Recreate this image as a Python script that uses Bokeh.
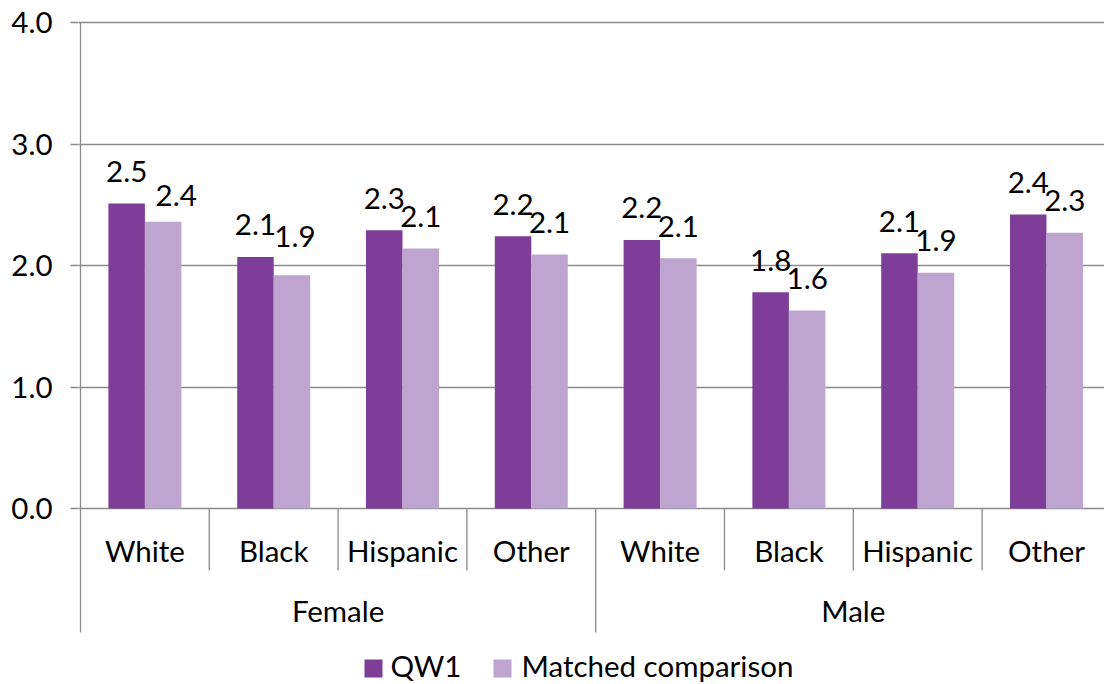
from bokeh.plotting import figure
from bokeh.models import Range1d, FixedTicker, PrintfTickFormatter
from bokeh.core.properties import value
from bokeh.embed import file_html
from bokeh.resources import INLINE

# ---- data -------------------------------------------------------------
genders = ["Female", "Male"]
groups = ["White", "Black", "Hispanic", "Other"]
qw1 = [2.51, 2.07, 2.29, 2.24, 2.21, 1.78, 2.10, 2.42]
matched = [2.36, 1.92, 2.14, 2.09, 2.06, 1.63, 1.94, 2.27]
series_names = ["QW1", "Matched comparison"]
y_ticks = [0, 1, 2, 3, 4]

# ---- style ------------------------------------------------------------
QW1_COLOR = "#7E3D97"
MATCH_COLOR = "#BEA5CF"
GRID = "#8A8A8A"
FONT = "Lato"
FS = "29.5px"
BASE_SHIFT = 11      # svg text sits this much lower than its anchor

W, H = 1104, 684
LEFT = 78            # frame starts here (px)
SLOT_PX = 128.8      # width of one category slot (px)
PPU = 121.5          # px per y unit
ZERO_PX = 508        # screen row of y = 0

X0 = -2 / SLOT_PX
x_end = X0 + (W - LEFT) / SLOT_PX
y_top = 4 + (ZERO_PX - 4 * PPU) / PPU
y_bot = -(H - ZERO_PX) / PPU


def below(px):
    """y value lying px pixels under the zero line"""
    return -px / PPU


def xpx(px):
    """x value for a screen column"""
    return X0 + (px - LEFT) / SLOT_PX


n = len(genders) * len(groups)
centers = [i + 0.5 for i in range(n)]
BAR_W = 36.5 / SLOT_PX

p = figure(width=W, height=H, output_backend="svg", toolbar_location=None,
           x_range=Range1d(X0, x_end), y_range=Range1d(y_bot, y_top),
           x_axis_location=None, min_border_left=LEFT, min_border_right=0,
           min_border_top=0, min_border_bottom=0)
p.outline_line_color = None
p.xgrid.visible = False
p.ygrid.grid_line_color = GRID
p.ygrid.grid_line_width = 1.3

ax = p.yaxis[0]
ax.ticker = FixedTicker(ticks=y_ticks)
ax.formatter = PrintfTickFormatter(format="%.1f")
ax.axis_line_color = None
ax.major_tick_in = 0
ax.major_tick_out = 8
ax.major_tick_line_color = GRID
ax.major_tick_line_width = 1.3
ax.minor_tick_line_color = None
ax.major_label_standoff = 18
ax.major_label_text_font = FONT
ax.major_label_text_font_size = FS
ax.major_label_text_color = "black"

# ---- bars -------------------------------------------------------------
p.vbar(x=[c - BAR_W / 2 for c in centers], top=qw1, bottom=0, width=BAR_W,
       fill_color=QW1_COLOR, line_color=None)
p.vbar(x=[c + BAR_W / 2 for c in centers], top=matched, bottom=0, width=BAR_W,
       fill_color=MATCH_COLOR, line_color=None)

# ---- value labels -----------------------------------------------------
GAP = 21 + BASE_SHIFT
dx_q = [0] * n
dy_q = [0] * n
dx_m = [13, 3, 0, 0, 0, 0, 0, 0]
dy_m = [-5.5, 7, 0, 0, 0, 0, 0, 0]

lab_x, lab_y, lab_t = [], [], []
for i, c in enumerate(centers):
    lab_x.append(c - BAR_W / 2 + dx_q[i] / SLOT_PX)
    lab_y.append(qw1[i] + (GAP + dy_q[i]) / PPU)
    lab_t.append(f"{qw1[i]:.1f}")
    lab_x.append(c + BAR_W / 2 + dx_m[i] / SLOT_PX)
    lab_y.append(matched[i] + (GAP + dy_m[i]) / PPU)
    lab_t.append(f"{matched[i]:.1f}")
p.text(x=lab_x, y=lab_y, text=lab_t, text_align="center",
       text_baseline="alphabetic", text_font=value(FONT),
       text_font_size=FS, text_color="black")

# ---- category axis ----------------------------------------------------
inner = [i for i in range(1, n) if i % len(groups) != 0]
outer = [i for i in range(0, n + 1) if i % len(groups) == 0]
p.segment(x0=inner, x1=inner, y0=[0] * len(inner), y1=[below(62)] * len(inner),
          line_color=GRID, line_width=1.3)
p.segment(x0=outer, x1=outer, y0=[0] * len(outer), y1=[below(124)] * len(outer),
          line_color=GRID, line_width=1.3)
# left spine above the zero line
p.segment(x0=[0], x1=[0], y0=[0], y1=[y_ticks[-1]], line_color=GRID, line_width=1.3)

cat_labels = [g for _ in genders for g in groups]
p.text(x=centers, y=[below(52.5 - BASE_SHIFT)] * n, text=cat_labels,
       text_align="center", text_baseline="alphabetic", text_font=value(FONT),
       text_font_size=FS, text_color="black")
gender_x = [len(groups) * (k + 0.5) for k in range(len(genders))]
p.text(x=gender_x, y=[below(112.5 - BASE_SHIFT)] * len(genders), text=genders,
       text_align="center", text_baseline="alphabetic", text_font=value(FONT),
       text_font_size=FS, text_color="black")

# ---- legend -----------------------------------------------------------
p.scatter(x=[xpx(373), xpx(502)], y=[below(160)] * 2, marker="square", size=18,
          fill_color=[QW1_COLOR, MATCH_COLOR], line_color=None)
p.text(x=[xpx(390), xpx(521)], y=[below(168 - BASE_SHIFT)] * 2, text=series_names,
       text_align="left", text_baseline="alphabetic", text_font=value(FONT),
       text_font_size=FS, text_color="black")

open("out.html", "w").write(file_html(p, INLINE))
